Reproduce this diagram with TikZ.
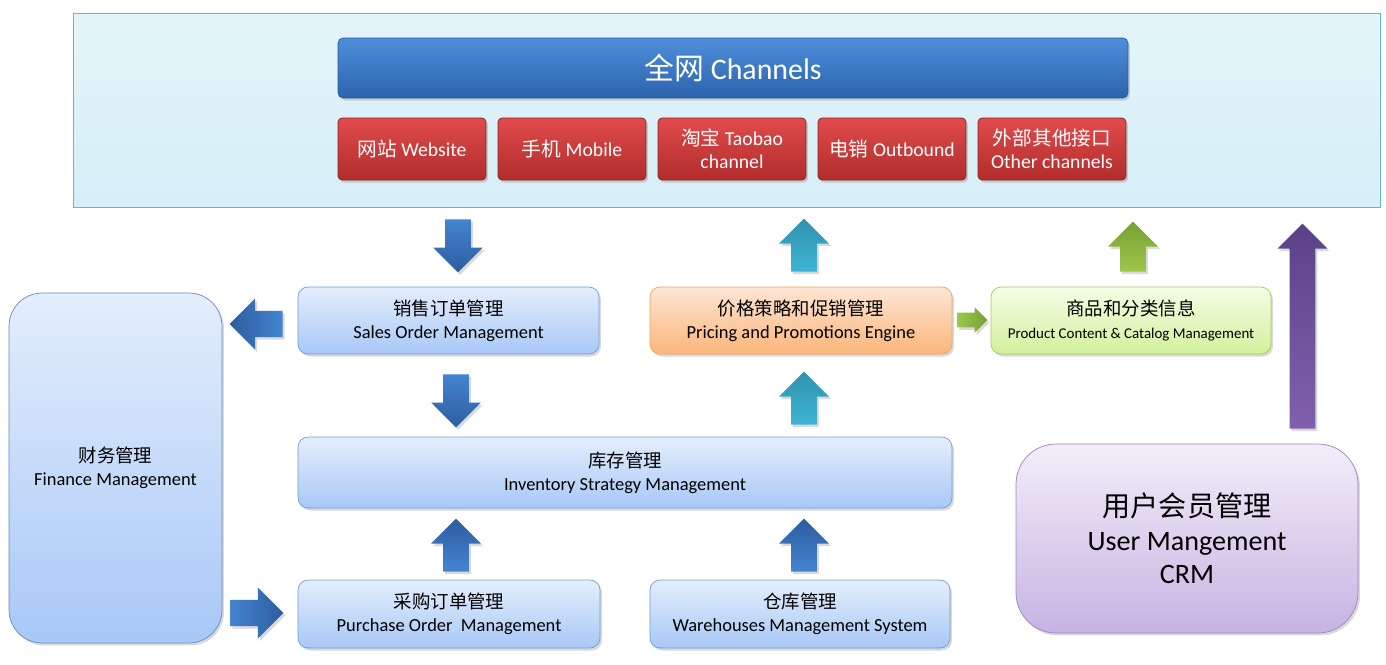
\documentclass[tikz,border=0pt]{standalone}
\usepackage{fontspec}
\setmainfont{Carlito}
\newfontfamily\cjk{Noto Sans CJK SC}
\usetikzlibrary{shapes.arrows,shadows}

\newcommand\zh[1]{{\cjk #1}}

\definecolor{frametop}{HTML}{E3F5FA}
\definecolor{framebot}{HTML}{D6EEF6}
\definecolor{frameline}{HTML}{62B8CF}
\definecolor{bartop}{HTML}{4D8FDB}
\definecolor{barbot}{HTML}{2D63AD}
\definecolor{barline}{HTML}{2C5A9A}
\definecolor{chantop}{HTML}{E04B4B}
\definecolor{chanbot}{HTML}{B22C2C}
\definecolor{chanline}{HTML}{922222}
\definecolor{modtop}{HTML}{E4EEFC}
\definecolor{modbot}{HTML}{A8C8F7}
\definecolor{modline}{HTML}{6F9BD8}
\definecolor{pricetop}{HTML}{FDE6D4}
\definecolor{pricebot}{HTML}{FBB57A}
\definecolor{priceline}{HTML}{F4A35A}
\definecolor{prodtop}{HTML}{F5FDE6}
\definecolor{prodbot}{HTML}{D3F09C}
\definecolor{prodline}{HTML}{A6CC5C}
\definecolor{usertop}{HTML}{F2EEF9}
\definecolor{userbot}{HTML}{C7B3E2}
\definecolor{userline}{HTML}{9E83C4}
\definecolor{bluedark}{HTML}{2D5D9F}
\definecolor{bluelight}{HTML}{4484D0}
\definecolor{tealdark}{HTML}{2F93B0}
\definecolor{teallight}{HTML}{3EB4D4}
\definecolor{greendark}{HTML}{78A033}
\definecolor{greenlight}{HTML}{9CC74A}
\definecolor{purpledark}{HTML}{5C4188}
\definecolor{purplelight}{HTML}{8060AE}

\tikzset{
  boxshadow/.style={drop shadow={opacity=0.3,shadow xshift=0.4mm,shadow yshift=-0.5mm}},
  modbox/.style={draw=modline, rounded corners=2mm, top color=modtop, bottom color=modbot,
    align=center, font=\fontsize{10.5}{13}\selectfont, inner sep=0pt, boxshadow},
  chanbox/.style={draw=chanline, rounded corners=0.8mm, top color=chantop, bottom color=chanbot,
    text=white, align=center, font=\fontsize{11.2}{13}\selectfont,
    minimum width=29.6mm, minimum height=12.4mm, inner sep=0pt, boxshadow},
  blkarrow/.style={single arrow, single arrow head extend=2.4mm, minimum width=9.8mm,
    minimum height=10.6mm, inner sep=2.5mm, anchor=tail, boxshadow}
}

\begin{document}
\begin{tikzpicture}[x=0.02cm,y=-0.02cm]
\useasboundingbox (0,0) rectangle (1386,664);

% channels
\node[draw=frameline, top color=frametop, bottom color=framebot, minimum width=261.4mm,
  minimum height=38.8mm, inner sep=0pt] (web) at (726.5,110) {};
\node[draw=barline, rounded corners=1mm, top color=bartop, bottom color=barbot, text=white,
  font=\fontsize{17}{20}\selectfont, minimum width=158mm, minimum height=12mm,
  inner sep=0pt, boxshadow] (allnet) at (733,68) {\zh{全网} Channels};
\node[chanbox] (site) at (412,149) {\zh{网站} Website};
\node[chanbox] (mobile) at (572,149) {\zh{手机} Mobile};
\node[chanbox] (taobao) at (732,149) {\zh{淘宝} Taobao\\channel};
\node[chanbox] (outbound) at (892,149) {\zh{电销} Outbound};
\node[chanbox] (other) at (1052,149) {\zh{外部其他接口}\\Other channels};

% modules
\node[modbox, rounded corners=6.6mm, minimum width=42.6mm, minimum height=70mm,
  draw=modline!90!black] (finance) at (115.5,468) {\zh{财务管理}\\Finance Management};
\node[modbox, minimum width=60.2mm, minimum height=13.4mm] (sales) at (448.5,320.5)
  {\zh{销售订单管理}\\Sales Order Management};
\node[modbox, draw=priceline, top color=pricetop, bottom color=pricebot, minimum width=60.4mm,
  minimum height=13.4mm] (pricing) at (801,320.5) {\zh{价格策略和促销管理}\\Pricing and Promotions Engine};
\node[modbox, draw=prodline, top color=prodtop, bottom color=prodbot, minimum width=56mm,
  minimum height=13.4mm] (product) at (1131,320.5)
  {\zh{商品和分类信息}\\{\fontsize{8.5}{13}\selectfont Product Content \& Catalog Management}};
\node[modbox, minimum width=130.8mm, minimum height=14.2mm] (inventory) at (625,472.5)
  {\zh{库存管理}\\Inventory Strategy Management};
\node[modbox, minimum width=60.4mm, minimum height=13.6mm] (purchase) at (449,614)
  {\zh{采购订单管理}\\Purchase Order\ \ Management};
\node[modbox, minimum width=60mm, minimum height=13.6mm] (warehouse) at (800,614)
  {\zh{仓库管理}\\Warehouses Management System};
\node[modbox, rounded corners=8mm, draw=userline, top color=usertop, bottom color=userbot,
  font=\fontsize{16}{19}\selectfont, minimum width=68.4mm, minimum height=37.8mm] (user)
  at (1187,538.5) {\zh{用户会员管理}\\User Mangement\\CRM};

% arrows
\node[blkarrow, shape border rotate=270, top color=bluelight, bottom color=bluedark] (toSales) at (458,219) {};
\node[blkarrow, shape border rotate=90, top color=tealdark, bottom color=teallight] (toWeb1) at (804,272) {};
\node[blkarrow, shape border rotate=90, top color=greendark, bottom color=greenlight,
  minimum width=10mm, minimum height=10mm] (toWeb2) at (1133,272) {};
\node[blkarrow, shape border rotate=90, top color=purpledark, bottom color=purplelight,
  minimum height=41mm] (toWeb3) at (1302.5,429) {};
\node[blkarrow, shape border rotate=180, left color=bluedark, right color=bluelight,
  minimum width=10.2mm] (toFinance) at (283,324) {};
\node[blkarrow, left color=greenlight, right color=greendark, minimum width=5mm,
  minimum height=6mm, inner sep=1.4mm, single arrow head extend=1.1mm] (toProduct) at (957,320) {};
\node[blkarrow, shape border rotate=270, top color=bluelight, bottom color=bluedark] (toInventory) at (456,374) {};
\node[blkarrow, shape border rotate=90, top color=tealdark, bottom color=teallight] (toPricing) at (804,425) {};
\node[blkarrow, shape border rotate=90, top color=bluedark, bottom color=bluelight] (fromPurchase) at (456,572) {};
\node[blkarrow, shape border rotate=90, top color=bluedark, bottom color=bluelight] (fromWarehouse) at (804,572) {};
\node[blkarrow, left color=bluelight, right color=bluedark, minimum width=10.2mm] (toPurchase) at (230,613) {};
\end{tikzpicture}
\end{document}
